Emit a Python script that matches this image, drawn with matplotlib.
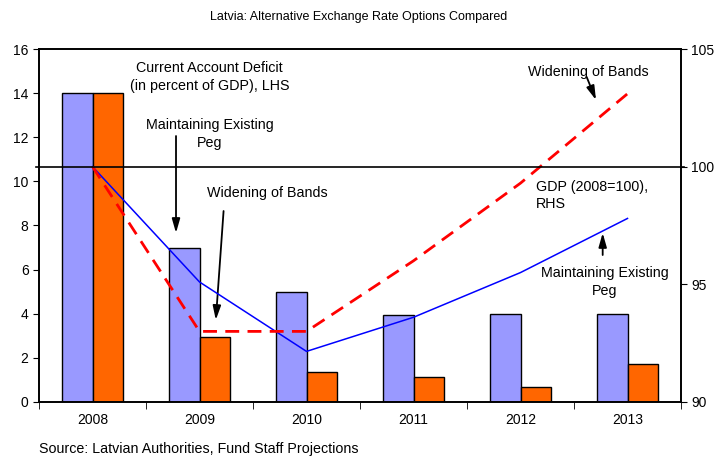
import matplotlib
matplotlib.use('Agg')
import matplotlib.pyplot as plt
import numpy as np

plt.rcParams['font.family'] = ['Liberation Sans', 'DejaVu Sans']

# data
years = ['2008', '2009', '2010', '2011', '2012', '2013']
ca_peg = [14.0, 7.0, 5.0, 3.95, 4.0, 4.0]        # current account deficit, LHS
ca_bands = [14.0, 2.95, 1.37, 1.12, 0.67, 1.71]
gdp_peg = [100.0, 95.1, 92.15, 93.6, 95.5, 97.8]  # GDP 2008=100, RHS
gdp_bands = [100.0, 93.0, 93.0, 96.0, 99.3, 103.1]

fig = plt.figure(figsize=(7.17, 4.58), dpi=100)
ax = fig.add_axes([0.0544, 0.1223, 0.8954, 0.7707])
ax2 = ax.twinx()

x = np.arange(len(years))
w = 0.285
ax.bar(x - w / 2, ca_peg, w, color='#9999FF', edgecolor='black', linewidth=1, zorder=2)
ax.bar(x + w / 2, ca_bands, w, color='#FF6600', edgecolor='black', linewidth=1, zorder=2)

ax.set_xlim(-0.5, len(years) - 0.5)
ax.set_ylim(0, 16)
ax.set_yticks(range(0, 17, 2))
ax.set_xticks(x)
ax.set_xticklabels(years)
ax.set_xticks(np.arange(-0.5, len(years), 1), minor=True)
ax.tick_params(axis='x', which='major', length=0, pad=8, labelsize=10)
ax.tick_params(axis='x', which='minor', length=5, direction='out')
ax.tick_params(axis='y', length=4, direction='out', labelsize=10)

ax2.set_ylim(90, 105)
ax2.set_yticks([90, 95, 100, 105])
ax2.tick_params(axis='y', length=4, direction='out', labelsize=10)
ax2.plot(x, gdp_peg, color='#0000FF', lw=1.1, zorder=3)
ax2.plot(x, gdp_bands, color='#FF0000', lw=2, ls=(0, (5, 3)), zorder=3)
ax2.axhline(100, xmin=-0.005, xmax=1.004, color='black', lw=1.2, clip_on=False, zorder=4)

for a in (ax, ax2):
    for s in a.spines.values():
        s.set_linewidth(1.2)

fs = 10.3
tr = ax.transAxes
ax.text(0.266, 0.921, 'Current Account Deficit\n(in percent of GDP), LHS', transform=tr,
        ha='center', va='center', fontsize=fs, linespacing=1.3)
ax.text(0.266, 0.759, 'Maintaining Existing\nPeg', transform=tr,
        ha='center', va='center', fontsize=fs, linespacing=1.3)
ax.text(0.355, 0.592, 'Widening of Bands', transform=tr,
        ha='center', va='center', fontsize=fs)
ax.text(0.855, 0.935, 'Widening of Bands', transform=tr,
        ha='center', va='center', fontsize=fs)
ax.text(0.774, 0.584, 'GDP (2008=100),\nRHS', transform=tr,
        ha='left', va='center', fontsize=fs, linespacing=1.3)
ax.text(0.8816, 0.34, 'Maintaining Existing\nPeg', transform=tr,
        ha='center', va='center', fontsize=fs, linespacing=1.3)

arrow = dict(arrowstyle='-|>,head_width=0.2,head_length=0.7', color='black', lw=1.3,
             mutation_scale=12, shrinkA=0, shrinkB=0)
for (x0, y0), (x1, y1) in [((0.2134, 0.7535), (0.2134, 0.4788)),
                           ((0.2875, 0.541), (0.2754, 0.2323)),
                           ((0.853, 0.921), (0.8676, 0.8555)),
                           ((0.878, 0.4164), (0.878, 0.4788))]:
    ax.annotate('', xy=(x1, y1), xytext=(x0, y0), xycoords=tr, textcoords=tr,
                arrowprops=arrow, zorder=5)

fig.text(0.5, 0.963, 'Latvia: Alternative Exchange Rate Options Compared',
         ha='center', va='center', fontsize=9)
fig.text(0.055, 0.019, 'Source: Latvian Authorities, Fund Staff Projections',
         ha='left', va='center', fontsize=10.3)

fig.savefig('out.png', dpi=100)
